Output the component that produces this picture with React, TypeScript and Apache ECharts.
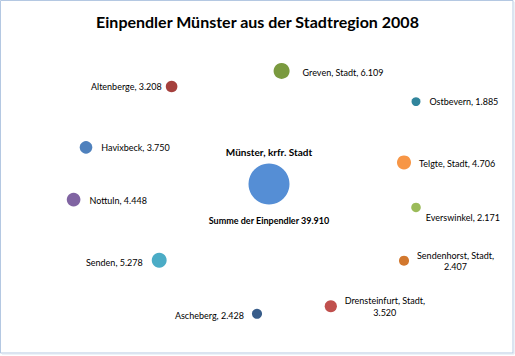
import React, { useEffect, useRef } from "react";
import * as echarts from "echarts";

const titleText = "Einpendler Münster aus der Stadtregion 2008";
const names = [
  "Münster, krfr. Stadt",
  "Greven, Stadt",
  "Altenberge",
  "Ostbevern",
  "Havixbeck",
  "Telgte, Stadt",
  "Nottuln",
  "Everswinkel",
  "Senden",
  "Sendenhorst, Stadt",
  "Drensteinfurt, Stadt",
  "Ascheberg",
];
const xs = [52.25, 55.4, 27.9, 89, 6.5, 86, 3.4, 89, 24.8, 86, 67.7, 49.25];
const ys = [52.3, 95.8, 89.8, 84.0, 66.4, 60.6, 46.3, 43.3, 23.0, 22.8, 5.3, 2.4];
const values = [39910, 6109, 3208, 1885, 3750, 4706, 4448, 2171, 5278, 2407, 3520, 2428];
const sumLabel = "Summe der Einpendler";

const colors = [
  "#558ED5", "#7A9A3F", "#A5403D", "#31859C", "#4F81BD", "#F79646",
  "#8064A2", "#9BBB59", "#4BACC6", "#D2782E", "#C0504D", "#385D8A",
];

// label placement per point (style only)
const labelLayouts: any[] = [
  { position: "top", distance: 7, fontSize: 10, fontWeight: "bold" },
  { position: "right", distance: 13, offset: [0, 2] },
  { position: "left", distance: 4 },
  { position: "right", distance: 9 },
  { position: "right", distance: 9 },
  { position: "right", distance: 8, offset: [0, 1] },
  { position: "right", distance: 9, offset: [0, 1] },
  { position: "right", distance: 5, offset: [0, 10] },
  { position: "left", distance: 9, offset: [0, 2] },
  { position: "inside", align: "center", offset: [51.5, 0.5], lineHeight: 11.5, split: true },
  { position: "inside", align: "center", offset: [54, 0.5], lineHeight: 11.5, split: true },
  { position: "left", distance: 8, offset: [0, 2] },
];

const fmt = (v: number) => v.toString().replace(/\B(?=(\d{3})+(?!\d))/g, ".");
const FONT = "Lato, 'Liberation Sans', sans-serif";

export default function App() {
  const ref = useRef<HTMLDivElement>(null);
  useEffect(() => {
    if (!ref.current) return;
    const chart = echarts.init(ref.current, null, { renderer: "svg" });
    const maxV = Math.max(...values);
    const sizeOf = (v: number) => 41 * Math.sqrt(v / maxV);

    const data = names.map((n, i) => {
      const lay = labelLayouts[i];
      const text =
        i === 0 ? n : lay.split ? `${n},\n${fmt(values[i])}` : `${n}, ${fmt(values[i])}`;
      return {
        name: n,
        value: [xs[i], ys[i], values[i]],
        itemStyle: { color: colors[i], opacity: 1 },
        label: {
          show: true,
          formatter: text,
          position: lay.position,
          distance: lay.distance ?? 5,
          offset: lay.offset ?? [0, 0],
          align: lay.align,
          lineHeight: lay.lineHeight,
          fontSize: lay.fontSize ?? 9,
          fontWeight: lay.fontWeight ?? "normal",
          color: "#000",
          fontFamily: FONT,
        },
      };
    });

    chart.setOption({
      animation: false,
      backgroundColor: "#fff",
      title: {
        text: titleText,
        left: "center",
        top: 8,
        textStyle: { fontFamily: FONT, fontSize: 16, fontWeight: "bold", color: "#000" },
      },
      grid: { left: 60, width: 400, top: 60, height: 260 },
      xAxis: { type: "value", min: 0, max: 100, show: false },
      yAxis: { type: "value", min: 0, max: 100, show: false },
      graphic: [
        {
          type: "rect",
          shape: { x: 0.5, y: 0.5, width: 512.5, height: 352.5 },
          style: { fill: "none", stroke: "#B4C8E2", lineWidth: 1 },
        },
        {
          type: "line",
          shape: { x1: 514, y1: 2, x2: 514, y2: 354 },
          style: { stroke: "#DCE5F1", lineWidth: 1 },
        },
        {
          type: "line",
          shape: { x1: 2, y1: 354, x2: 514, y2: 354 },
          style: { stroke: "#DCE5F1", lineWidth: 1 },
        },
      ],
      series: [
        {
          type: "scatter",
          symbolSize: (v: number[]) => sizeOf(v[2]),
          itemStyle: { opacity: 1 },
          data,
          emphasis: { disabled: true },
        },
        {
          type: "scatter",
          symbolSize: (v: number[]) => sizeOf(v[2]),
          itemStyle: { color: "rgba(0,0,0,0)", opacity: 1 },
          z: 1,
          data: [
            {
              name: sumLabel,
              value: [xs[0], ys[0], values[0]],
              label: {
                show: true,
                position: "bottom",
                distance: 11,
                formatter: `${sumLabel} ${fmt(values[0])}`,
                fontSize: 9,
                fontWeight: "bold",
                color: "#000",
                fontFamily: FONT,
              },
            },
          ],
          emphasis: { disabled: true },
        },
      ],
    });
    return () => chart.dispose();
  }, []);
  return (
    <div
      ref={ref}
      style={{ position: "fixed", left: 0, top: 0, width: 515, height: 356 }}
    />
  );
}
